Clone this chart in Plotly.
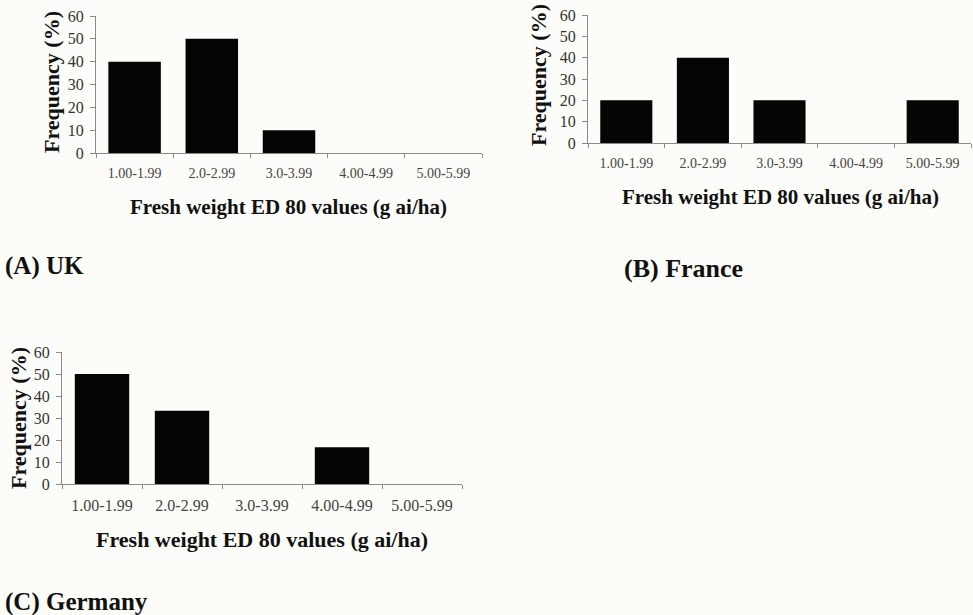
import plotly.graph_objects as go

categories = ["1.00-1.99", "2.0-2.99", "3.0-3.99", "4.00-4.99", "5.00-5.99"]
uk_values = [40, 50, 10, 0, 0]
france_values = [20, 40, 20, 0, 20]
germany_values = [50, 33.3, 0, 16.7, 0]
y_ticks = [0, 10, 20, 30, 40, 50, 60]

W, H = 973, 615
BG = "#fcfcf8"
FONT = "Liberation Serif"


def fx(px):
    return px / W


def fy(py):
    return 1 - py / H


fig = go.Figure()
panels = [
    ("", uk_values, (96, 482), (153, 16), 14, 16),
    ("2", france_values, (588, 971), (143, 15), 14, 16),
    ("3", germany_values, (62, 462), (484, 352), 16, 16),
]

for suf, vals, (x0, x1), (yb, yt), xfs, yfs in panels:
    fig.add_trace(go.Bar(
        x=categories, y=vals, xaxis="x" + suf, yaxis="y" + suf,
        marker=dict(color="#050505", line=dict(width=0)), width=0.68,
        showlegend=False,
    ))
    fig.layout["xaxis" + suf] = dict(
        domain=[fx(x0), fx(x1)], anchor="y" + suf, type="category",
        range=[-0.5, 4.5], showgrid=False, zeroline=False, automargin=False,
        showline=True, linecolor="#8a8a8a", linewidth=1,
        ticks="outside", tickson="boundaries", ticklen=4, tickcolor="#8a8a8a",
        tickfont=dict(family=FONT, size=xfs, color="#444"),
        ticklabelstandoff=7,
    )
    fig.layout["yaxis" + suf] = dict(
        domain=[fy(yb), fy(yt)], anchor="x" + suf, range=[0, 60],
        tickvals=y_ticks, showgrid=False, zeroline=False, automargin=False,
        showline=True, linecolor="#8a8a8a", linewidth=1,
        ticks="outside", ticklen=5, tickcolor="#8a8a8a",
        tickfont=dict(family=FONT, size=yfs, color="#333"),
        ticklabelstandoff=3,
    )

ann = []
# y-axis labels
for (cx, cy) in [(52, 82), (538, 75), (18, 418)]:
    ann.append(dict(x=fx(cx), y=fy(cy), xref="paper", yref="paper",
                    text="<b>Frequency (%)</b>", textangle=-90, showarrow=False,
                    xanchor="center", yanchor="middle",
                    font=dict(family=FONT, size=22, color="#111")))
# x-axis titles
for (cx, cy, fs) in [(288, 207, 21), (780, 197, 21), (262, 539, 22)]:
    ann.append(dict(x=fx(cx), y=fy(cy), xref="paper", yref="paper",
                    text="<b>Fresh weight ED 80 values (g ai/ha)</b>", showarrow=False,
                    xanchor="center", yanchor="middle",
                    font=dict(family=FONT, size=fs, color="#111")))
# panel labels
for (lx, cy, t, fs) in [(3, 266, "(A) UK", 25), (622, 268, "(B) France", 26),
                        (3, 602, "(C) Germany", 25)]:
    ann.append(dict(x=fx(lx), y=fy(cy), xref="paper", yref="paper",
                    text="<b>" + t + "</b>", showarrow=False,
                    xanchor="left", yanchor="middle",
                    font=dict(family=FONT, size=fs, color="#111")))

fig.update_layout(
    width=W, height=H, margin=dict(l=0, r=0, t=0, b=0, autoexpand=False),
    paper_bgcolor=BG, plot_bgcolor=BG, annotations=ann,
)

fig.write_html(
    "out.html",
    config={"displayModeBar": False},
    post_script="document.body.style.margin='0';document.body.style.background='#fcfcf8';",
)
